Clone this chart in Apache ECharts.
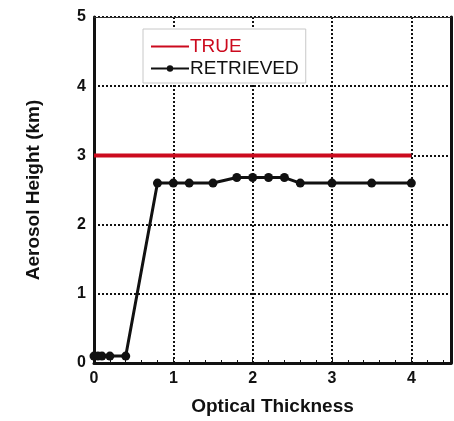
<!DOCTYPE html>
<html>
<head>
<meta charset="utf-8">
<script src="https://cdn.jsdelivr.net/npm/echarts@6/dist/echarts.min.js"></script>
<style>
  html, body { margin: 0; padding: 0; background: #fff; }
  #chart { width: 454px; height: 421px; }
</style>
</head>
<body>
<div id="chart"></div>
<script>
// Retrieved aerosol layer height versus optical thickness
const retrievedTau    = [0, 0.05, 0.1, 0.2, 0.4, 0.8, 1.0, 1.2, 1.5, 1.8, 2.0, 2.2, 2.4, 2.6, 3.0, 3.5, 4.0];
const retrievedHeight = [0.1, 0.1, 0.1, 0.1, 0.1, 2.6, 2.6, 2.6, 2.6, 2.68, 2.68, 2.68, 2.68, 2.6, 2.6, 2.6, 2.6];

// True layer height over the same range
const trueTau    = [0, 4];
const trueHeight = [3, 3];

const xTicks = [0, 1, 2, 3, 4];
const yTicks = [0, 1, 2, 3, 4, 5];

const FONT = '"Liberation Sans", Arial, sans-serif';
const RED = '#cc0a1e';
const pair = (xs, ys) => xs.map((x, i) => [x, ys[i]]);

const gridDots = { show: true, lineStyle: { color: '#111', width: 2, type: [2, 2] } };
const tickLabel = (ticks) => ({
  fontFamily: FONT, fontWeight: 'bold', fontSize: 16, color: '#111', margin: 8,
  formatter: v => ticks.includes(v) ? String(v) : ''
});

const chart = echarts.init(document.getElementById('chart'));
chart.setOption({
  animation: false,
  backgroundColor: '#fff',
  grid: { left: 94, right: 3, top: 17, bottom: 55 },
  legend: {
    orient: 'vertical',
    left: 143, top: 29,
    padding: [8, 7, 5, 7],
    itemWidth: 38, itemHeight: 8, itemGap: 3,
    backgroundColor: '#fff',
    borderColor: '#c8c8c8', borderWidth: 1,
    textStyle: { fontFamily: FONT, fontSize: 19, padding: [0, 0, 0, -4] },
    data: [
      { name: 'TRUE', textStyle: { color: RED },
        itemStyle: { opacity: 0 }, lineStyle: { width: 2 } },
      { name: 'RETRIEVED', textStyle: { color: '#111' },
        lineStyle: { width: 2 } }
    ]
  },
  xAxis: [{
    type: 'value', min: 0, max: 4.5, interval: 1,
    name: 'Optical Thickness', nameLocation: 'middle', nameGap: 34,
    nameTextStyle: { fontFamily: FONT, fontWeight: 'bold', fontSize: 19, color: '#111' },
    axisLine: { show: true, onZero: false, lineStyle: { color: '#111', width: 3 } },
    axisTick: { show: true, inside: true, length: 4, lineStyle: { color: '#111', width: 1 } },
    minorTick: { show: true, splitNumber: 5, length: 3, lineStyle: { color: '#111' } },
    axisLabel: tickLabel(xTicks),
    splitLine: gridDots
  }, {
    type: 'value', position: 'top', min: 0, max: 4.5,
    axisLine: { show: true, onZero: false, lineStyle: { color: '#333', width: 1 } },
    axisTick: { show: false }, axisLabel: { show: false }, splitLine: { show: false }
  }],
  yAxis: [{
    type: 'value', min: 0, max: 5, interval: 1,
    name: 'Aerosol Height (km)', nameLocation: 'middle', nameGap: 51,
    nameTextStyle: { fontFamily: FONT, fontWeight: 'bold', fontSize: 19, color: '#111' },
    axisLine: { show: true, onZero: false, lineStyle: { color: '#111', width: 3 } },
    axisTick: { show: false },
    axisLabel: tickLabel(yTicks),
    splitLine: gridDots
  }, {
    type: 'value', position: 'right', min: 0, max: 5,
    axisLine: { show: true, onZero: false, lineStyle: { color: '#111', width: 3 } },
    axisTick: { show: false }, axisLabel: { show: false }, splitLine: { show: false }
  }],
  series: [{
    name: 'TRUE',
    type: 'line',
    data: pair(trueTau, trueHeight),
    symbol: 'none',
    lineStyle: { color: RED, width: 4 },
    itemStyle: { color: RED },
    z: 3
  }, {
    name: 'RETRIEVED',
    type: 'line',
    data: pair(retrievedTau, retrievedHeight),
    symbol: 'circle', symbolSize: 9,
    showAllSymbol: true,
    lineStyle: { color: '#111', width: 3 },
    itemStyle: { color: '#111' },
    z: 4
  }]
});
</script>
</body>
</html>
